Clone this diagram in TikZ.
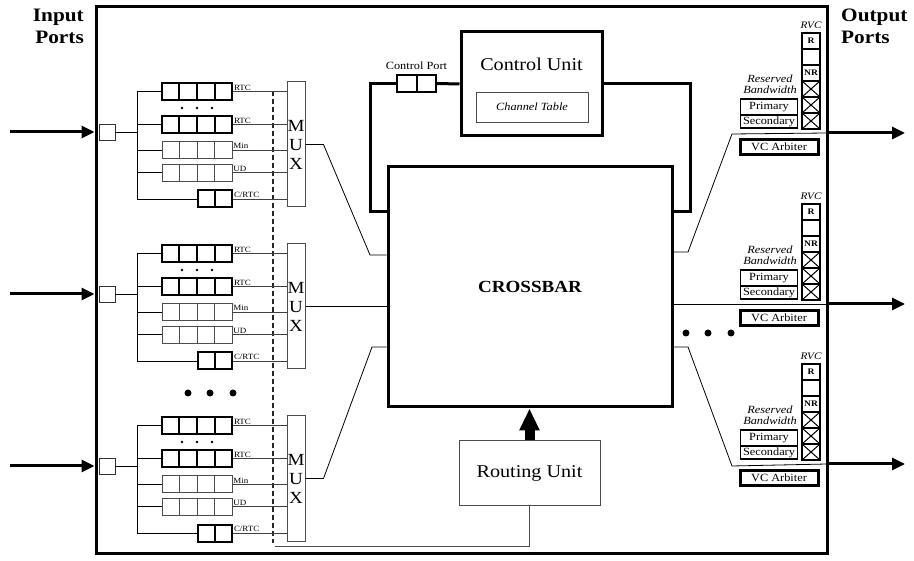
\documentclass[tikz,border=0pt]{standalone}
\usepackage{fontspec}
\setmainfont{Liberation Serif}[FakeStretch=1.12]
\usetikzlibrary{arrows.meta,calc,positioning}

\begin{document}
\begin{tikzpicture}[x=1pt, y=-1pt,
  framenode/.style={shape=rectangle, draw=black, line width=3pt, minimum width=731pt, minimum height=546pt},
  portnode/.style={shape=rectangle, draw=black!80, line width=0.8pt, minimum size=16pt, inner sep=0pt},
  rtcqueue/.style={shape=rectangle, draw=black, line width=2pt, minimum width=70pt, minimum height=17pt, inner sep=0pt},
  minqueue/.style={shape=rectangle, draw=black!70, line width=0.8pt, minimum width=70pt, minimum height=17pt, inner sep=0pt},
  crtcqueue/.style={shape=rectangle, draw=black, line width=2pt, minimum width=34pt, minimum height=17pt, inner sep=0pt},
  qlabel/.style={anchor=south west, inner sep=0.8pt, font=\fontsize{8}{9}\selectfont},
  muxnode/.style={shape=rectangle, draw=black!70, line width=1pt, minimum width=18pt, minimum height=125pt, inner sep=0pt, align=center, font=\fontsize{17}{19}\selectfont},
  wire/.style={draw=black, line width=0.8pt},
  qwire/.style={draw=black!75, line width=0.9pt},
  loopwire/.style={draw=black, line width=3pt},
  portarrow/.style={draw=black, line width=3pt, -{Triangle[length=13pt, width=12pt]}},
  bigarrow/.style={draw=black, line width=10pt, -{Triangle[length=22pt, width=19pt]}},
  porttitle/.style={font=\bfseries\fontsize{19}{22}\selectfont, inner sep=0pt},
  cunode/.style={shape=rectangle, draw=black, line width=3pt, minimum width=141pt, minimum height=104pt},
  tablenode/.style={shape=rectangle, draw=black!70, line width=0.8pt, minimum width=112pt, minimum height=30pt, font=\itshape\fontsize{11}{12}\selectfont},
  xbarnode/.style={shape=rectangle, draw=black, line width=3pt, minimum width=284pt, minimum height=240pt, font=\bfseries\fontsize{17}{20}\selectfont},
  runode/.style={shape=rectangle, draw=black!70, line width=1pt, minimum width=141pt, minimum height=65pt, font=\fontsize{18}{20}\selectfont},
  rvccell/.style={shape=rectangle, draw=black, line width=1.5pt, minimum width=18pt, minimum height=16pt, inner sep=0pt, font=\bfseries\fontsize{8.5}{9}\selectfont},
  xcell/.style={rvccell, path picture={\draw[line width=1pt] (path picture bounding box.south west) -- (path picture bounding box.north east) (path picture bounding box.north west) -- (path picture bounding box.south east);}},
  bwnode/.style={shape=rectangle, draw=black, line width=1.5pt, minimum width=57pt, inner sep=0pt, font=\fontsize{11}{12}\selectfont},
  arbnode/.style={shape=rectangle, draw=black, line width=3pt, minimum width=78pt, minimum height=15pt, inner sep=0pt, font=\fontsize{11}{12}\selectfont},
  itnote/.style={font=\itshape\fontsize{11}{11}\selectfont, align=center, inner sep=0pt},
]
\useasboundingbox (0,0) rectangle (914,561);

%%%frame
\node[framenode] (frame) at (461.5,280) {};
\node[porttitle, anchor=north east, align=right] (intitle) at (84,9) {Input\\Ports};
\node[porttitle, anchor=north west, align=left] (outtitle) at (841,9) {Output\\Ports};

%%%input ports
\draw[draw=black!85, line width=1.2pt, dash pattern=on 5pt off 3pt] (273,91) -- (273,543);
\foreach \g/\ty in {1/83,2/245,3/417} {
  \coordinate (in\g) at (10,\ty+49);
  \coordinate (bus\g) at (137,\ty+49);
  \node[portnode] (port\g) at (107,\ty+49) {};
  \node[rtcqueue] (rtca\g) at (197,\ty+8.5) {};
  \node[rtcqueue] (rtcb\g) at (197,\ty+41.5) {};
  \node[minqueue] (min\g) at (197,\ty+67) {};
  \node[minqueue] (ud\g) at (197,\ty+89.5) {};
  \node[crtcqueue] (crtc\g) at (215,\ty+116) {};
  \node[muxnode] (mux\g) at (296,\ty+61.5) {M\\U\\X};
  % cells
  \foreach \q in {rtca,rtcb} \foreach \kk in {1,2,3}
    \draw[line width=2pt] ($(\q\g.north west)!\kk/4!(\q\g.north east)$) -- ($(\q\g.south west)!\kk/4!(\q\g.south east)$);
  \foreach \q in {min,ud} \foreach \kk in {1,2,3}
    \draw[draw=black!70, line width=0.8pt] ($(\q\g.north west)!\kk/4!(\q\g.north east)$) -- ($(\q\g.south west)!\kk/4!(\q\g.south east)$);
  \draw[line width=2pt] (crtc\g.north) -- (crtc\g.south);
  \foreach \dx in {182,197,212} \fill (\dx,\ty+25) circle (1.3pt);
  % wires
  \draw[portarrow] (in\g) -- (in\g -| frame.west);
  \draw[wire] (port\g.east) -- (bus\g);
  \draw[wire] (rtca\g.west) -- (rtca\g.west -| bus\g) -- (crtc\g.west -| bus\g) -- (crtc\g.west);
  \foreach \q in {rtcb,min,ud} \draw[wire] (\q\g.west) -- (\q\g.west -| bus\g);
  \foreach \q in {rtca,rtcb,min,ud,crtc} \draw[qwire] (\q\g.east) -- (\q\g.east -| mux\g.west);
  \node[qlabel] at (rtca\g.east) {RTC};
  \node[qlabel] at (rtcb\g.east) {RTC};
  \node[qlabel] at (min\g.east) {Min};
  \node[qlabel] at (ud\g.east) {UD};
  \node[qlabel] at (crtc\g.east) {C/RTC};
}
\foreach \dx in {188,210,233} \fill (\dx,393) circle (3.5pt);

%%%crossbar and units
\node[xbarnode] (xbar) at (530,287) {CROSSBAR};
\node[cunode] (cu) at (531.5,84) {};
\node[font=\fontsize{18}{20}\selectfont] (cutext) at (531.5,64) {Control Unit};
\node[tablenode] (ctab) at (532,107) {Channel Table};
\node[crtcqueue, minimum width=39pt] (cport) at (416.5,83.5) {};
\draw[line width=2pt] (cport.north) -- (cport.south);
\node[font=\fontsize{11}{12}\selectfont, above=0.5pt of cport] (cplabel) {Control Port};
\coordinate (lc) at (370,212);
\coordinate (rc) at (690,212);
\draw[loopwire] (cport.east) -- (cu.west);
\draw[loopwire] (cport.west) -| (lc) -- (lc -| xbar.west);
\draw[loopwire] (cu.east) -| (rc) -- (rc -| xbar.east);

\node[runode] (ru) at (529.5,473.5) {Routing Unit};
\draw[bigarrow] (ru.north) -- (ru.north |- xbar.south);
\coordinate (rl) at (275,546);
\draw[wire, draw=black!70] (ru.south) |- (rl);

\coordinate (xa) at (370,255);
\coordinate (xc) at (372,347);
\draw[wire] (mux1.east) -- ++(18,0) -- (xa) -- (xa -| xbar.west);
\draw[wire] (mux2.east) -- (mux2.east -| xbar.west);
\draw[wire] (mux3.east) -- ++(18,0) -- (xc) -- (xc -| xbar.west);

%%%output ports
\foreach \op/\ty in {1/33,2/204,3/364} {
  \node[itnote, font=\itshape\fontsize{10}{10}\selectfont] (rvc\op) at (811,\ty-8) {RVC};
  \node[rvccell] (rr\op) at (811,\ty+8) {R};
  \node[rvccell] (rb\op) at (811,\ty+24) {};
  \node[rvccell] (rn\op) at (811,\ty+40) {NR};
  \foreach \kk in {1,2,3} \node[xcell] (rx\op\kk) at (811,\ty+40+16*\kk) {};
  \node[itnote] (resv\op) at (770,\ty+51) {Reserved\\Bandwidth};
  \node[bwnode, minimum height=16pt] (prim\op) at (769,\ty+74) {Primary};
  \node[bwnode, minimum height=13pt] (sec\op) at (769,\ty+88.5) {Secondary};
  \node[arbnode] (arb\op) at (779,\ty+114) {VC Arbiter};
  \coordinate (out\op) at (827,\ty+100);
  \coordinate (end\op) at (905,\ty+100);
  \draw[portarrow] (out\op) -- (end\op);
}
\coordinate (xo1) at (688,252);
\coordinate (xk1) at (732,134);
\coordinate (xo3) at (688,347);
\coordinate (xk3) at (732,466);
\draw[wire] (xo1 -| xbar.east) -- (xo1) -- (xk1) -- (out1);
\draw[wire] (out2 -| xbar.east) -- (out2);
\draw[wire] (xo3 -| xbar.east) -- (xo3) -- (xk3) -- (out3);
\foreach \dx in {686,708,731} \fill (\dx,333) circle (3.5pt);
%%%%%%%%%
\end{tikzpicture}
\end{document}
